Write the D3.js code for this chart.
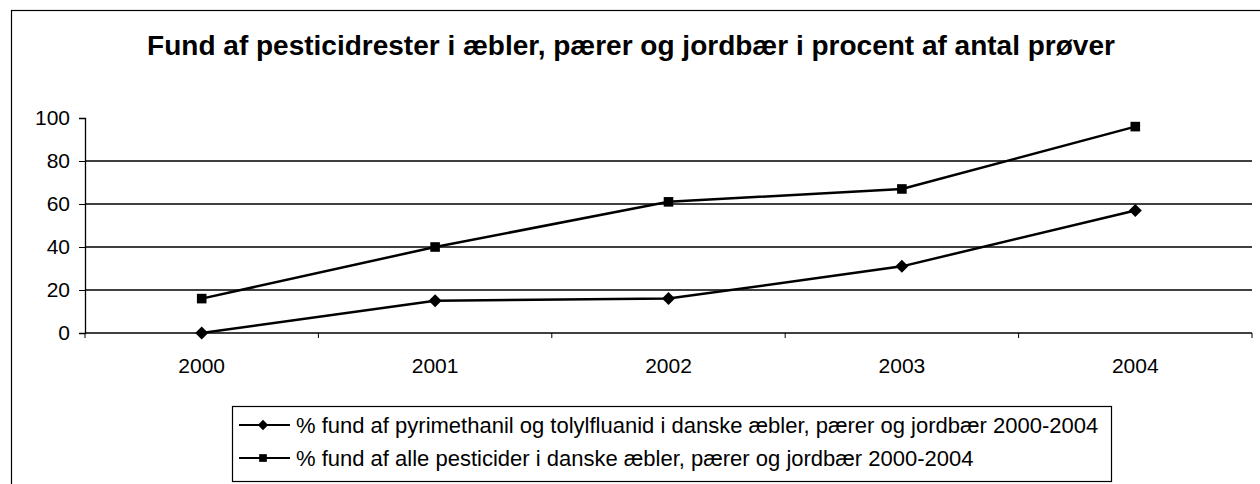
<!DOCTYPE html>
<html>
<head>
<meta charset="utf-8">
<script src="https://cdn.jsdelivr.net/npm/d3@7"></script>
<style>
  body { margin: 0; background: #fff; }
  svg { display: block; font-family: "Liberation Sans", Arial, sans-serif; }
</style>
</head>
<body>
<svg id="chart" width="1260" height="484"></svg>
<script>
(() => {
  const years = ["2000", "2001", "2002", "2003", "2004"];
  const pyrimethanil = [0, 15, 16, 31, 57];   // % fund af pyrimethanil og tolylfluanid
  const allPesticides = [16, 40, 61, 67, 96]; // % fund af alle pesticider
  const yTicks = [0, 20, 40, 60, 80, 100];
  const seriesNames = [
    "% fund af pyrimethanil og tolylfluanid i danske æbler, pærer og jordbær 2000-2004",
    "% fund af alle pesticider i danske æbler, pærer og jordbær 2000-2004"
  ];
  const seriesValues = [pyrimethanil, allPesticides];

  // wide diamond (rotated square) and plain square markers
  const diamond = r => `M0,${-r}L${r},0L0,${r}L${-r},0Z`;
  const square = r => `M${-r},${-r}H${r}V${r}H${-r}Z`;
  const markers = [d => diamond(d), d => square(d)];
  const markerR = [6.5, 4.8];

  let margin = { top: 118, left: 85, right: 8, bottom: 151 },
      width = 1260 - margin.left - margin.right,
      height = 484 - margin.top - margin.bottom;

  let svg = d3.select("#chart");

  // outer chart frame (runs off the right and bottom edges)
  svg.append("rect")
    .attr("x", 11.5).attr("y", 10.5)
    .attr("width", 1300).attr("height", 500)
    .attr("fill", "none").attr("stroke", "#000").attr("stroke-width", 1.2);

  // title
  svg.append("text")
    .attr("x", 631).attr("y", 55)
    .attr("text-anchor", "middle")
    .style("font-size", "28px").style("font-weight", "bold")
    .text("Fund af pesticidrester i æbler, pærer og jordbær i procent af antal prøver");

  let g = svg.append("g")
    .attr("transform", `translate(${margin.left},${margin.top})`);

  let x = d3.scaleBand().domain(years).range([0, width]);
  let y = d3.scaleLinear().domain([0, 100]).range([height, 0]);

  // gridlines
  g.append("g")
    .selectAll("line")
    .data(yTicks.filter(t => t > 0 && t < 100))
    .enter().append("line")
    .attr("x1", 0).attr("x2", width)
    .attr("y1", d => y(d)).attr("y2", d => y(d))
    .attr("stroke", "#000").attr("stroke-width", 1.3);

  // y axis
  let yAxis = g.append("g")
    .call(d3.axisLeft(y).tickValues(yTicks).tickSize(6).tickPadding(9));
  yAxis.select(".domain").attr("stroke-width", 1.3);
  yAxis.selectAll("text")
    .style("font-size", "21px")
    .style("font-family", "'Liberation Sans', Arial, sans-serif")
    .attr("fill", "#000");

  // x axis: ticks at category boundaries
  let xAxis = g.append("g").attr("transform", `translate(0,${height})`);
  xAxis.append("line")
    .attr("x1", 0).attr("x2", width)
    .attr("stroke", "#000").attr("stroke-width", 1.3);
  xAxis.selectAll(".xtick")
    .data(years.concat(["end"]))
    .enter().append("line")
    .attr("class", "xtick")
    .attr("x1", (d, i) => i * x.bandwidth()).attr("x2", (d, i) => i * x.bandwidth())
    .attr("y1", 0).attr("y2", 5)
    .attr("stroke", "#000");
  xAxis.selectAll(".xlabel")
    .data(years)
    .enter().append("text")
    .attr("x", d => x(d) + x.bandwidth() / 2)
    .attr("y", 40)
    .attr("text-anchor", "middle")
    .style("font-size", "21px")
    .text(d => d);

  let cx = d => x(d) + x.bandwidth() / 2;
  let line = d3.line().x((d, i) => cx(years[i])).y(d => y(d));

  seriesValues.forEach((vals, s) => {
    g.append("path")
      .datum(vals)
      .attr("d", line)
      .attr("fill", "none").attr("stroke", "#000").attr("stroke-width", 2.5);
    g.selectAll(".m" + s)
      .data(vals)
      .enter().append("path")
      .attr("class", "m" + s)
      .attr("transform", (d, i) => `translate(${cx(years[i])},${y(d)})`)
      .attr("d", markers[s](markerR[s]))
      .attr("fill", "#000");
  });

  // legend
  let legend = svg.append("g").attr("transform", "translate(232,406)");
  legend.append("rect")
    .attr("x", 0.5).attr("y", 0.5)
    .attr("width", 879).attr("height", 75)
    .attr("fill", "#fff").attr("stroke", "#000").attr("stroke-width", 1.2);

  seriesNames.forEach((name, i) => {
    let ly = 19 + i * 33;
    legend.append("line")
      .attr("x1", 7).attr("x2", 58)
      .attr("y1", ly).attr("y2", ly)
      .attr("stroke", "#000").attr("stroke-width", 2);
    legend.append("path")
      .attr("transform", `translate(31,${ly})`)
      .attr("d", markers[i](markerR[i] * 0.8))
      .attr("fill", "#000");
    legend.append("text")
      .attr("x", 64).attr("y", ly + 7.5)
      .style("font-size", "22px")
      .text(name);
  });
})();
</script>
</body>
</html>
